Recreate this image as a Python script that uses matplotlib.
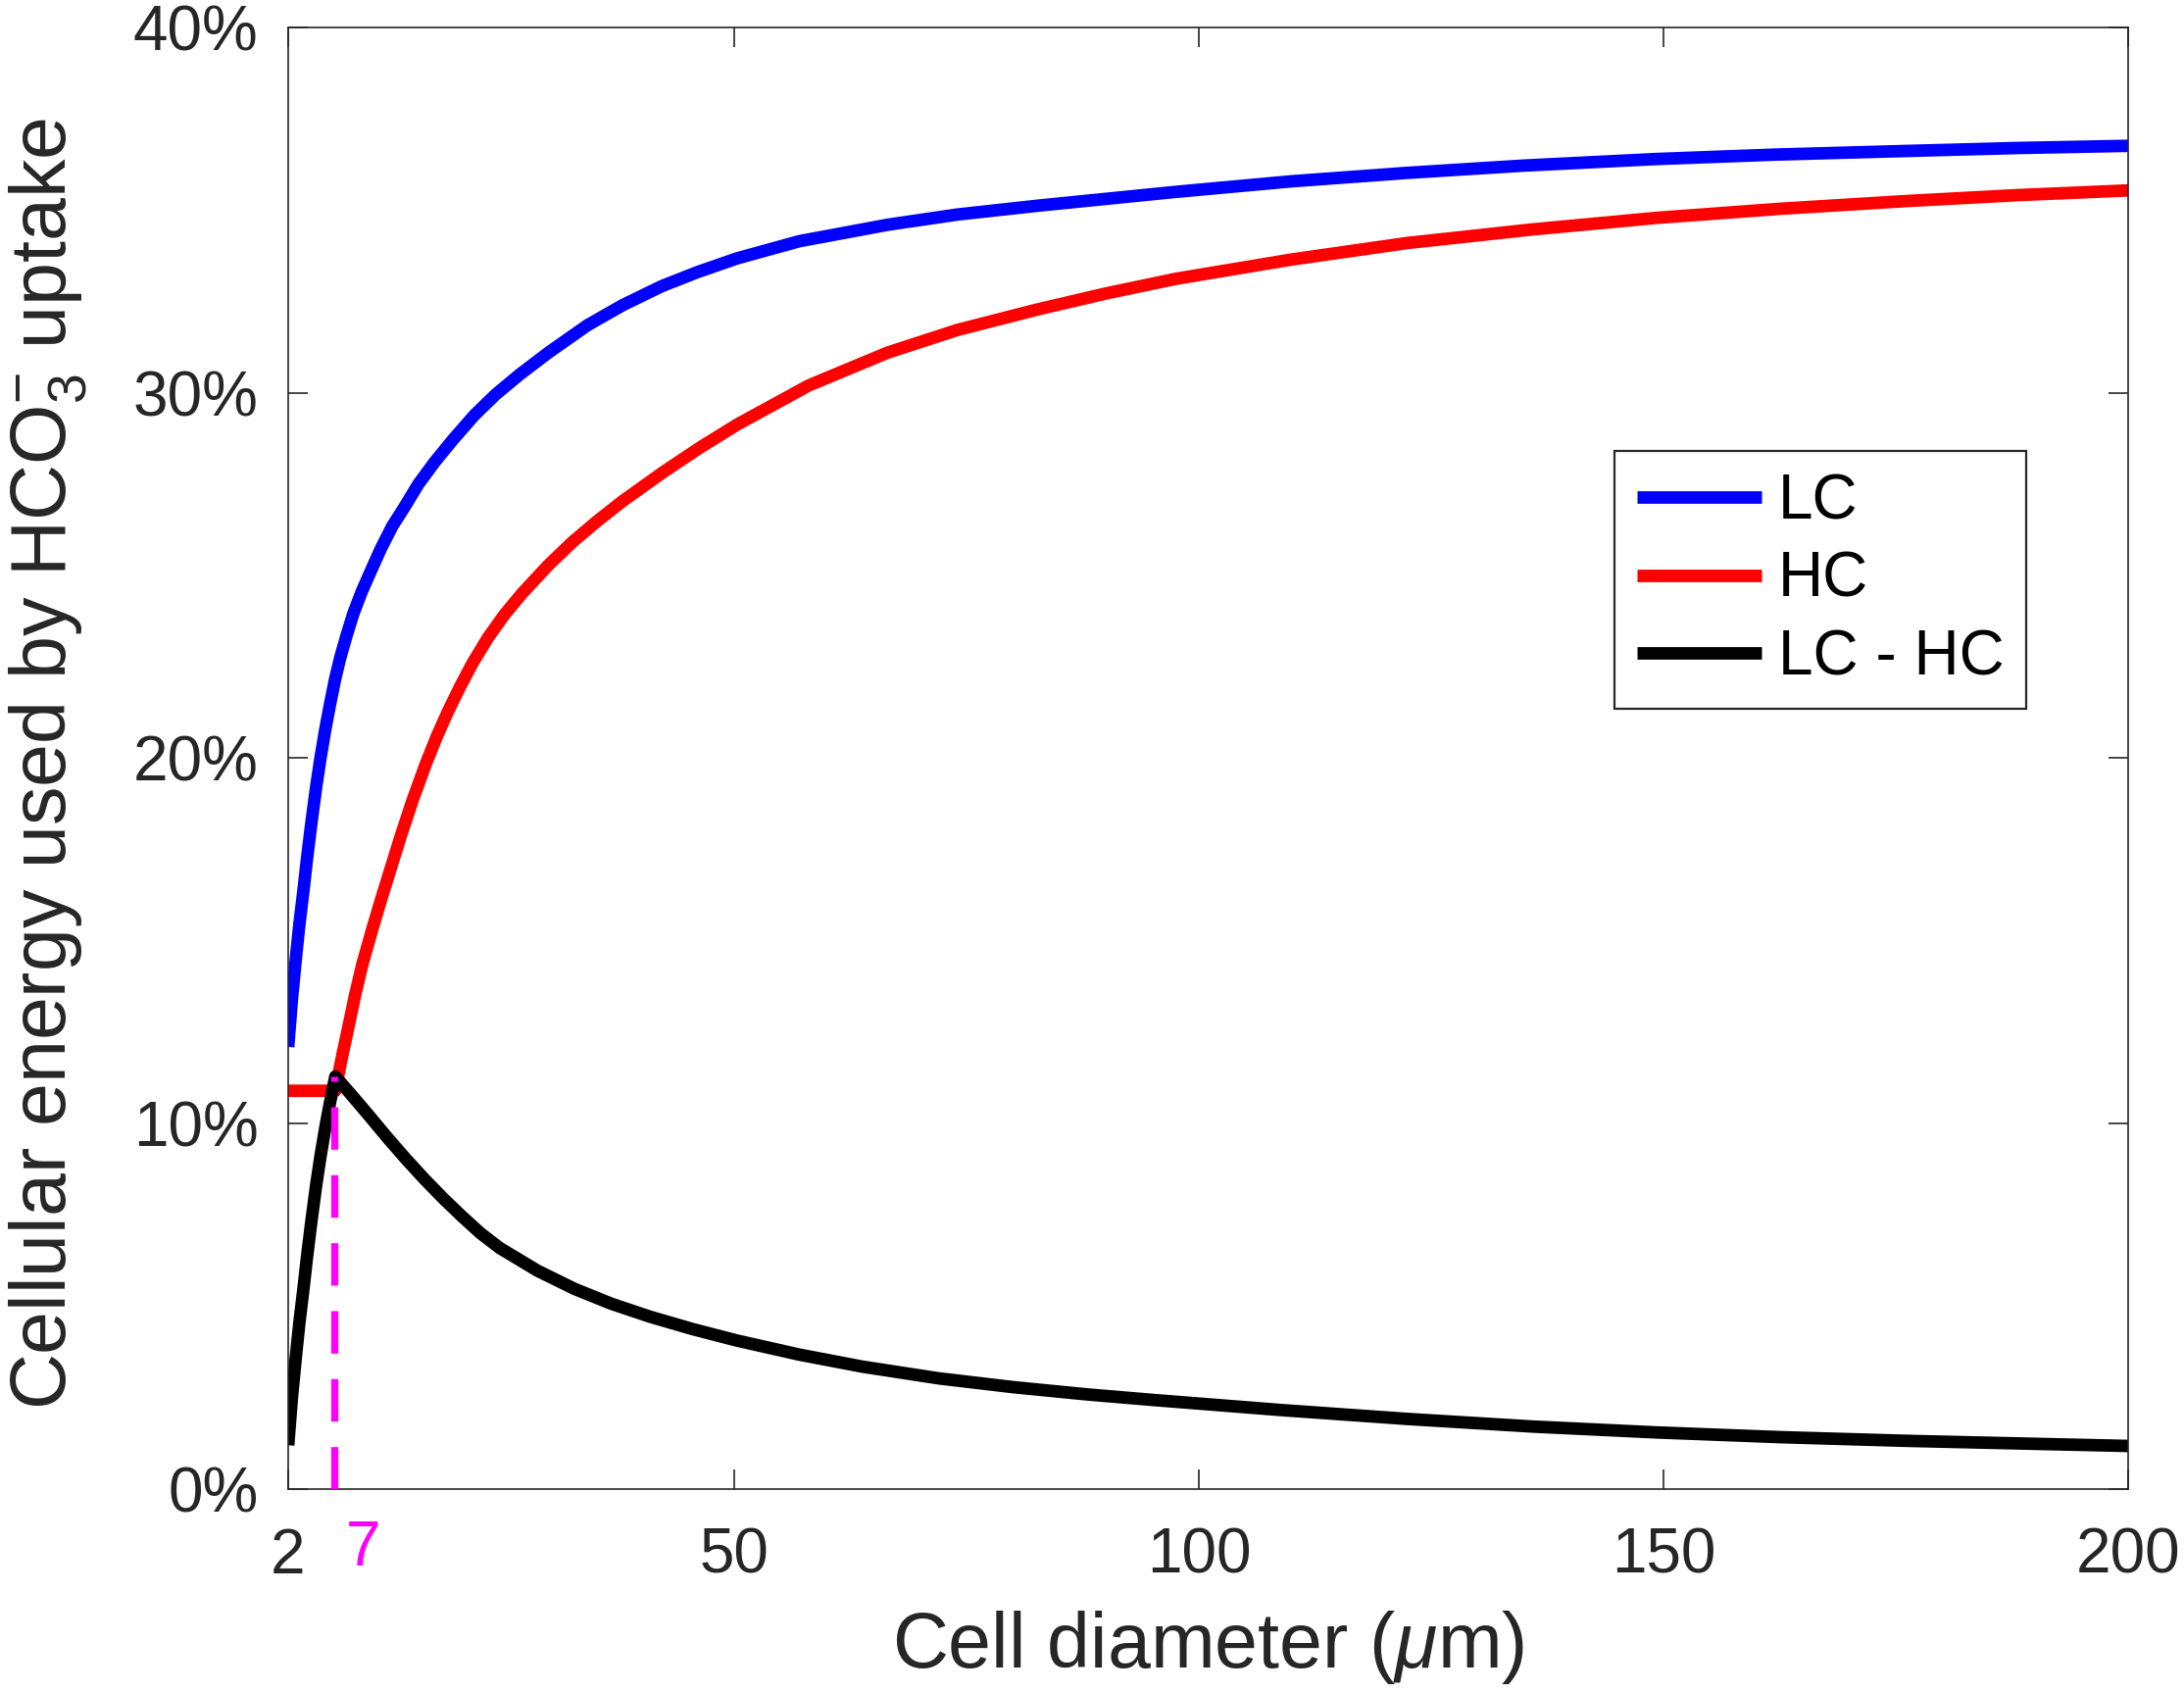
import matplotlib
matplotlib.use('Agg')
import matplotlib.pyplot as plt

plt.rcParams['font.family'] = ['Liberation Sans', 'DejaVu Sans']
plt.rcParams['mathtext.fontset'] = 'custom'
plt.rcParams['mathtext.rm'] = 'Liberation Sans'
plt.rcParams['mathtext.it'] = 'Liberation Sans:italic'
plt.rcParams['mathtext.bf'] = 'Liberation Sans:bold'

# ---- data (percent of cellular energy) ----
lc_x = [2, 2.4, 2.84, 3.2, 3.65, 4.0, 4.46, 5.0, 5.47, 6.0, 6.48, 7.07, 7.6, 8.26,
        9.0, 9.9, 10.9, 12.0, 13.2, 14.6, 16.0, 17.8, 19.7, 22.0, 24.3, 26.9,
        30.0, 34.2, 38.0, 42.2, 46.0, 50.3, 57.0, 66.5, 74.0, 82.6, 97.5, 110,
        122.4, 135, 149.3, 162, 176.2, 188, 200]
lc_y = [12.1, 13.4, 14.56, 15.45, 16.4, 17.2, 18.16, 19.2, 20.0, 20.8, 21.45, 22.19,
        22.75, 23.34, 23.95, 24.55, 25.13, 25.75, 26.35, 26.91, 27.5, 28.12, 28.71,
        29.38, 29.95, 30.5, 31.1, 31.85, 32.4, 32.92, 33.3, 33.68, 34.15, 34.6,
        34.88, 35.12, 35.5, 35.79, 36.02, 36.22, 36.4, 36.52, 36.62, 36.7, 36.76]

hc_x = [2, 7.07, 7.7, 8.43, 9.2, 10.0, 11.07, 12.1, 14.1, 15.4, 16.8, 18.0, 19.14,
        20.5, 21.83, 23.5, 25.3, 27.2, 29.9, 32.6, 35.3, 38.0, 42.3, 46.3, 50.3,
        58.0, 66.5, 74.0, 82.6, 90.0, 97.5, 110, 122.4, 135.8, 149.3, 162.7,
        176.2, 188, 200]
hc_y = [10.9, 10.9, 11.72, 12.59, 13.52, 14.38, 15.34, 16.22, 17.86, 18.86, 19.84,
        20.6, 21.25, 21.96, 22.6, 23.3, 23.94, 24.52, 25.26, 25.92, 26.5, 27.04,
        27.82, 28.5, 29.13, 30.2, 31.1, 31.72, 32.28, 32.72, 33.12, 33.65, 34.1,
        34.47, 34.79, 35.04, 35.25, 35.41, 35.54]

diff_x = [2, 2.4, 2.84, 3.2, 3.65, 4.0, 4.46, 5.0, 5.47, 6.0, 6.48, 7.07, 8.59, 10.6,
          12.63, 14.65, 16.67, 18.7, 20.71, 22.7, 24.75, 28.8, 32.8, 36.8, 40.9,
          45.5, 50.2, 57.0, 63.8, 72.0, 80.0, 88.0, 95.5, 109, 122.4, 136, 149.3,
          162.7, 176.2, 188, 200]
diff_y = [1.2, 2.5, 3.66, 4.55, 5.5, 6.3, 7.26, 8.3, 9.1, 9.9, 10.55, 11.29, 10.85,
          10.25, 9.63, 9.04, 8.48, 7.95, 7.46, 7.0, 6.6, 5.98, 5.48, 5.07, 4.72,
          4.38, 4.07, 3.68, 3.35, 3.03, 2.79, 2.59, 2.43, 2.16, 1.92, 1.71, 1.55,
          1.42, 1.32, 1.25, 1.18]

series_labels = ['LC', 'HC', 'LC - HC']
series_colors = ['#0000FF', '#FF0000', '#000000']

x_ticks = [2, 50, 100, 150, 200]
y_ticks = [0, 10, 20, 30, 40]
y_tick_labels = ['0%', '10%', '20%', '30%', '40%']
marker_x = 7
marker_label = '7'

# ---- figure ----
fig = plt.figure(figsize=(11.14, 8.63), dpi=200)
ax = fig.add_axes([0.13196, 0.11993, 0.84246, 0.86385])

axis_col = '#262626'
lw = 4.6
for xs, ys, lab, col in zip([lc_x, hc_x, diff_x], [lc_y, hc_y, diff_y],
                            series_labels, series_colors):
    ax.plot(xs, ys, color=col, lw=lw, label=lab, solid_capstyle='butt',
            solid_joinstyle='round')

ax.plot([marker_x, marker_x], [0, max(diff_y)], color='#FF00FF', lw=2.6,
        dashes=(6.0, 3.6), solid_capstyle='butt', zorder=5)

ax.set_xlim(2, 200)
ax.set_ylim(0, 40)
ax.set_xticks(x_ticks)
ax.set_xticklabels([str(t) for t in x_ticks])
ax.set_yticks(y_ticks)
ax.set_yticklabels(y_tick_labels)

ax.tick_params(axis='both', direction='in', length=7.2, width=0.6, colors=axis_col,
               labelsize=23, top=True, right=True)
ax.tick_params(axis='x', pad=14)
ax.tick_params(axis='y', pad=11)
for s in ax.spines.values():
    s.set_linewidth(0.6)
    s.set_color(axis_col)

ax.annotate(marker_label, xy=(marker_x, 0), xycoords=('data', 'axes fraction'),
            xytext=(10.6, -11), textcoords='offset points', ha='center', va='top',
            fontsize=23, color='#FF00FF')

fig.text(0.5532, 0.0145, r'Cell diameter ($\mu$m)', ha='center', va='baseline',
         fontsize=28.4, color=axis_col)
fig.text(0.0305, 0.549, r'Cellular energy used by HCO$_3^{-}$ uptake', rotation=90,
         rotation_mode='anchor', ha='center', va='baseline', fontsize=28.4,
         color=axis_col)

leg = ax.legend(loc='upper left', bbox_to_anchor=(0.721, 0.710), fontsize=23,
                handlelength=2.0, handletextpad=0.26, borderpad=0.35,
                labelspacing=0.3, borderaxespad=0, frameon=True, fancybox=False,
                edgecolor=axis_col, framealpha=1)
leg.get_frame().set_linewidth(0.8)

fig.savefig('out.png', dpi=200)
